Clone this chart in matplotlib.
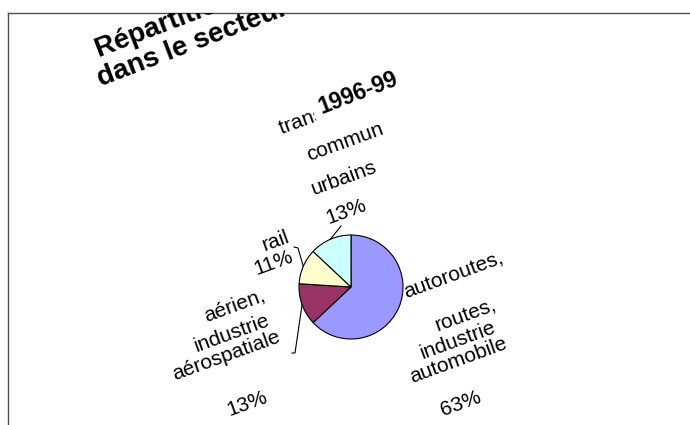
import numpy as np
import matplotlib
matplotlib.use("Agg")
import matplotlib.pyplot as plt

plt.rcParams["font.family"] = ["Liberation Sans", "DejaVu Sans"]

# Emplois dans le secteur des transports, 1996-99 (%)
categories = [
    "autoroutes, routes, industrie automobile",
    "aérien, industrie aérospatiale",
    "rail",
    "transports en commun urbains",
]
values = [63, 13, 11, 13]
label_lines = [
    ["autoroutes,", "routes,", "industrie", "automobile"],
    ["aérien,", "industrie", "aérospatiale"],
    ["rail"],
    ["transports en", "commun", "urbains"],
]
title_lines = ["Répartition de l'emploi", "dans le secteur des transports"]
period = "1996-99"
colors = ["#9999FF", "#993366", "#FFFFCC", "#CCFFFF"]

W, H = 690, 425
fig = plt.figure(figsize=(W / 100, H / 100), dpi=100)
# chart area: top/left border visible, running off the right and bottom
left_px, top_px = 8, 13
ax = fig.add_axes([left_px / W, 0, (W - left_px) / W, (H - top_px) / H])


def P(px, py):
    """pixel position (origin top-left) -> data coordinates"""
    return px, H - py


cx, cy = P(351, 287)
radius = 52
wedges, _ = ax.pie(values, colors=colors, startangle=90, counterclock=False,
                   center=(cx, cy), radius=radius,
                   wedgeprops=dict(edgecolor="black", linewidth=0.8))

ax.set_xlim(left_px, W)
ax.set_ylim(0, H - top_px)
ax.set_aspect("auto")
ax.set_frame_on(True)
ax.set_xticks([])
ax.set_yticks([])
for side in ("right", "bottom"):
    ax.spines[side].set_visible(False)
for side in ("top", "left"):
    ax.spines[side].set_color("#505050")
    ax.spines[side].set_linewidth(1.0)

ROT = 20
lab_fs = 15

# label line centres (pixels) for each slice, percentage line last
line_pos = [
    [(454, 276), (466, 316), (458, 340), (458, 360), (461, 404)],
    [(234, 306), (232, 333), (226, 356), (247, 404)],
    [(276, 241), (273, 263)],
    [(337, 108), (345, 142), (344, 178), (346, 212)],
]

for lines, v, pos in zip(label_lines, values, line_pos):
    texts = lines + [f"{v}%"]
    for t, (px, py) in zip(texts, pos):
        x, y = P(px, py)
        ax.text(x, y, t, fontsize=lab_fs, rotation=ROT, rotation_mode="anchor",
                ha="center", va="center", color="black", zorder=3)


def wedge_mid(w):
    ang = np.deg2rad((w.theta1 + w.theta2) / 2)
    return cx + radius * np.cos(ang), cy + radius * np.sin(ang)


# leader lines from labels to slices
leaders = {
    1: [(292, 353), (295, 353)],
    2: [(294, 247), (298, 248)],
    3: [(341, 226)],
}
for i, pts in leaders.items():
    xs = [P(*p)[0] for p in pts]
    ys = [P(*p)[1] for p in pts]
    mx, my = wedge_mid(wedges[i])
    ax.plot(xs + [mx], ys + [my], color="black", lw=0.8, zorder=2)

# title
t1x, t1y = P(96, 51)
ax.text(t1x, t1y, title_lines[0], fontsize=20, fontweight="bold",
        rotation=ROT + 1, rotation_mode="anchor", ha="left", va="center",
        clip_on=True, zorder=4)
t2x, t2y = P(98, 80)
ax.text(t2x, t2y, title_lines[1], fontsize=20, fontweight="bold",
        rotation=ROT + 1, rotation_mode="anchor", ha="left", va="center",
        clip_on=True, zorder=4)
t3x, t3y = P(358, 93)
ax.text(t3x, t3y, period, fontsize=16.5, fontweight="bold",
        rotation=ROT + 1, rotation_mode="anchor", ha="center", va="center",
        zorder=5, bbox=dict(facecolor="white", edgecolor="none", pad=5))

fig.savefig("out.png", dpi=100, facecolor="white")
